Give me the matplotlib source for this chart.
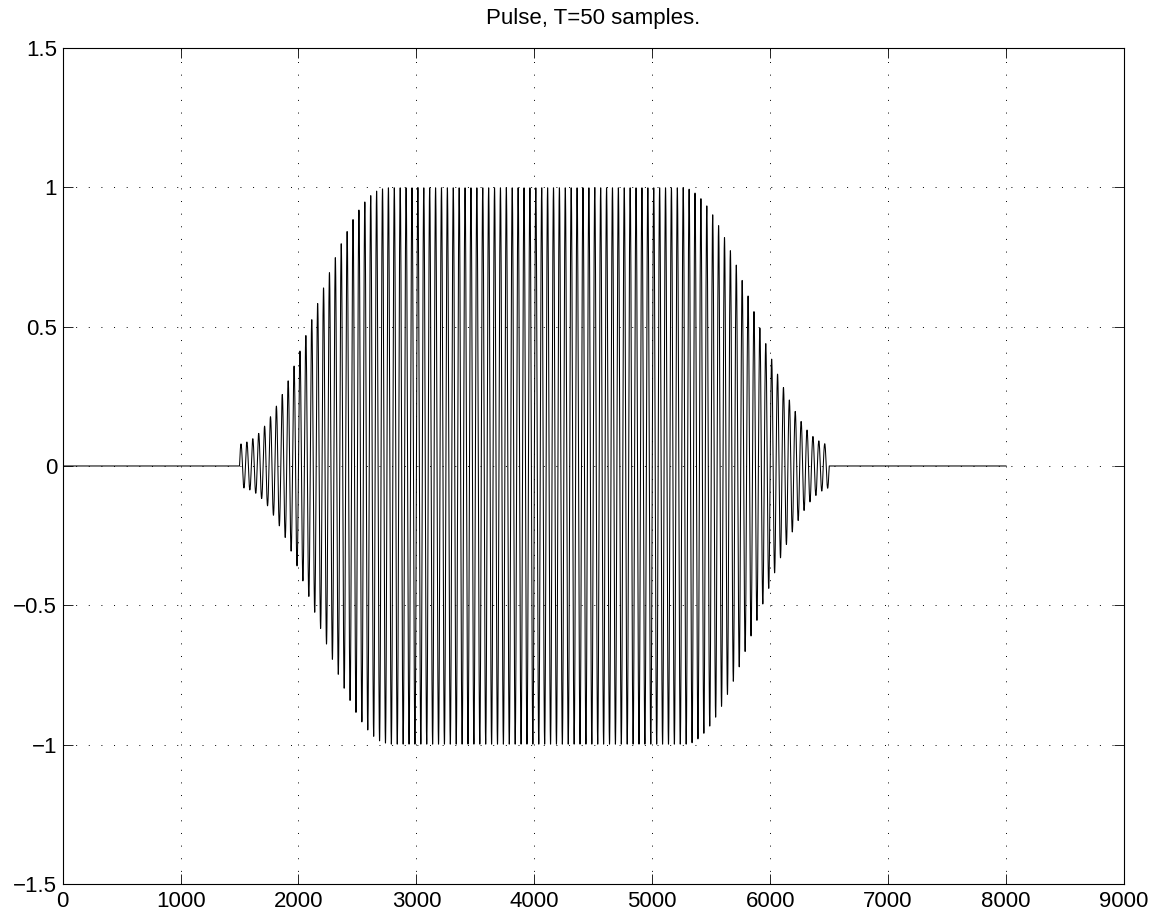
import numpy as np
import matplotlib.pyplot as plt

plt.rcParams['font.family'] = ['Liberation Sans', 'DejaVu Sans']

# signal layout, in samples
N_TOTAL = 8000
PULSE_START = 1500
PERIOD = 50  # T

# peak amplitude of each carrier cycle in the pulse
rise = [0.079, 0.086, 0.098, 0.117, 0.143, 0.177, 0.215, 0.257, 0.306,
        0.359, 0.413, 0.469, 0.526, 0.584, 0.640, 0.695, 0.749, 0.799,
        0.843, 0.886, 0.920, 0.949, 0.972, 0.988, 0.996, 1.0]
flat = [1.0] * 50
fall = [0.995, 0.981, 0.961, 0.935, 0.903, 0.864, 0.821, 0.774, 0.722,
        0.667, 0.611, 0.555, 0.496, 0.440, 0.384, 0.330, 0.282, 0.237,
        0.196, 0.160, 0.129, 0.106, 0.090, 0.080]
cycle_amp = np.array(rise + flat + fall)

xticks = [0, 1000, 2000, 3000, 4000, 5000, 6000, 7000, 8000, 9000]
yticks = [-1.5, -1, -0.5, 0, 0.5, 1, 1.5]
ylabels = ['\u22121.5', '\u22121', '\u22120.5', '0', '0.5', '1', '1.5']

n = np.arange(N_TOTAL + 1)
env = np.zeros(N_TOTAL + 1)
pulse_len = len(cycle_amp) * PERIOD
env[PULSE_START:PULSE_START + pulse_len] = np.repeat(cycle_amp, PERIOD)
x = env * np.sin(2 * np.pi * (n - PULSE_START) / PERIOD)

fig = plt.figure(figsize=(11.58, 9.22), dpi=100)
ax = fig.add_axes([0.0541, 0.0412, 0.9165, 0.9068])
ax.plot(n, x, color='black', linewidth=0.75)

ax.set_xlim(0, 9000)
ax.set_ylim(-1.5, 1.5)
ax.set_xticks(xticks)
ax.set_yticks(yticks)
ax.set_yticklabels(ylabels)
ax.grid(True, color='black', linestyle=(0, (1, 12)), linewidth=0.7)
ax.tick_params(direction='in', length=7, width=0.6, top=True, right=True,
               labelsize=16)
ax.tick_params(axis='x', pad=5)
ax.tick_params(axis='y', pad=4)
for s in ax.spines.values():
    s.set_linewidth(0.8)
ax.set_title('Pulse, T=50 samples.', fontsize=16, pad=17)

fig.savefig('out.png', dpi=100)
